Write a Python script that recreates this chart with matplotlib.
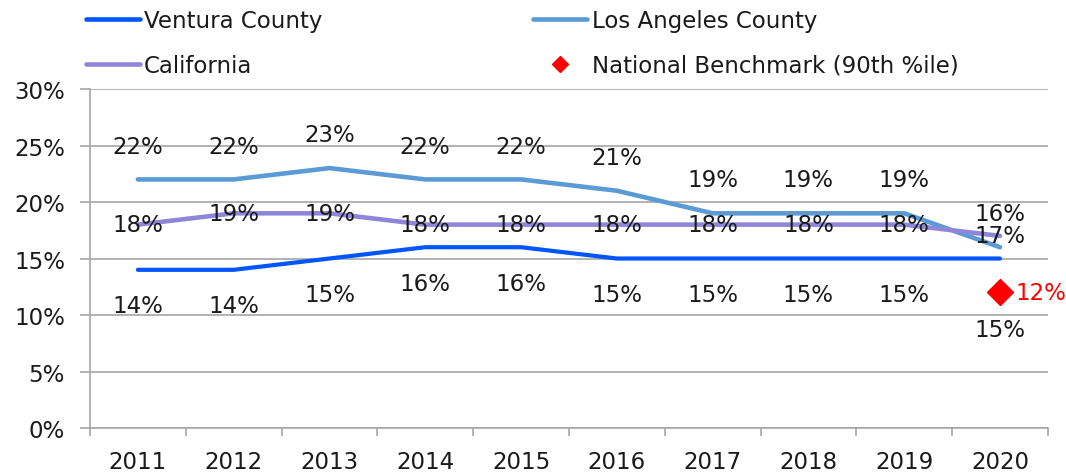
import numpy as np
import matplotlib.pyplot as plt
from matplotlib.ticker import PercentFormatter, FixedLocator
from matplotlib.lines import Line2D

years = ["2011", "2012", "2013", "2014", "2015", "2016", "2017", "2018", "2019", "2020"]
ventura = [14, 14, 15, 16, 16, 15, 15, 15, 15, 15]
los_angeles = [22, 22, 23, 22, 22, 21, 19, 19, 19, 16]
california = [18, 19, 19, 18, 18, 18, 18, 18, 18, 17]
benchmark = 12  # 2020 only

c_ven = "#0055ff"
c_la = "#5b9bd5"
c_ca = "#8e86d8"
c_bm = "#ff0000"
grid_c = "#a6a6a6"
txt_c = "#1a1a1a"

plt.rcParams["font.family"] = ["DejaVu Sans"]
plt.rcParams["text.color"] = txt_c
plt.rcParams["xtick.labelcolor"] = txt_c
plt.rcParams["ytick.labelcolor"] = txt_c
fs = 16.5

fig = plt.figure(figsize=(10.66, 4.77), dpi=100)
ax = fig.add_axes([0.0844, 0.1006, 0.8986, 0.7107])

x = np.arange(len(years))
ax.plot(x, los_angeles, color=c_la, lw=3.3, solid_capstyle="round", zorder=3)
ax.plot(x, california, color=c_ca, lw=3.3, solid_capstyle="round", zorder=3)
ax.plot(x, ventura, color=c_ven, lw=3.0, solid_capstyle="round", zorder=4)
ax.plot([x[-1]], [benchmark], marker="D", color=c_bm, ms=13, ls="none", zorder=5)

# data labels
for i, v in enumerate(los_angeles):
    ax.annotate(f"{v}%", (i, v), xytext=(0, 24), textcoords="offset points",
                ha="center", va="center", fontsize=fs)
for i, v in enumerate(california):
    ax.annotate(f"{v}%", (i, v), xytext=(0, 0), textcoords="offset points",
                ha="center", va="center", fontsize=fs)
for i, v in enumerate(ventura):
    dy = -51 if i == len(ventura) - 1 else -26
    ax.annotate(f"{v}%", (i, v), xytext=(0, dy), textcoords="offset points",
                ha="center", va="center", fontsize=fs)
ax.annotate(f"{benchmark}%", (x[-1], benchmark), xytext=(11, 0), textcoords="offset points",
            ha="left", va="center", fontsize=fs, color=c_bm)

ax.set_xlim(-0.5, len(years) - 0.5)
ax.set_ylim(0, 30)
ax.set_yticks(np.arange(0, 31, 5))
ax.yaxis.set_major_formatter(PercentFormatter(decimals=0))
ax.set_xticks(x)
ax.set_xticklabels(years)
ax.xaxis.set_minor_locator(FixedLocator(np.arange(-0.5, len(years), 1)))
ax.tick_params(axis="x", which="major", length=0, pad=16, labelsize=fs)
ax.tick_params(axis="x", which="minor", length=6, color=grid_c, width=1.2)
ax.tick_params(axis="y", length=7, color=grid_c, width=1.2, labelsize=fs, pad=11)
ax.grid(axis="y", color=grid_c, lw=1.2)
for s in ["top", "right"]:
    ax.spines[s].set_visible(False)
for s in ["left", "bottom"]:
    ax.spines[s].set_color(grid_c)
    ax.spines[s].set_linewidth(1.2)
ax.set_axisbelow(True)

handles = [
    Line2D([], [], color=c_ven, lw=3.3, solid_capstyle="round"),
    Line2D([], [], color=c_ca, lw=3.3, solid_capstyle="round"),
    Line2D([], [], color=c_la, lw=3.3, solid_capstyle="round"),
    Line2D([], [], color=c_bm, marker="D", ms=8, ls="none"),
]
labels = ["Ventura County", "California", "Los Angeles County", "National Benchmark (90th %ile)"]
fig.legend(handles, labels, ncol=2, loc="upper left", bbox_to_anchor=(0.061, 1.022),
           frameon=False, fontsize=fs, handlelength=2.35, handletextpad=0.2,
           columnspacing=9.2, labelspacing=0.95)

fig.savefig("out.png", dpi=100)
